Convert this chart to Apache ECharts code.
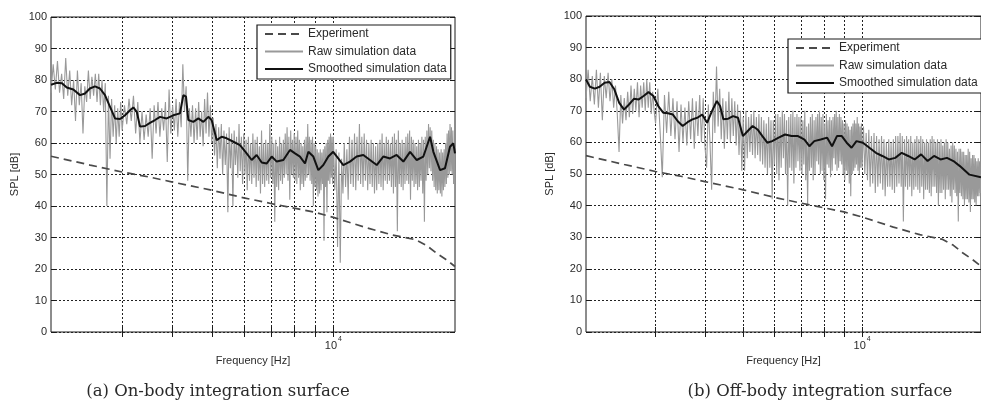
<!DOCTYPE html>
<html>
<head>
<meta charset="utf-8">
<script src="https://cdn.jsdelivr.net/npm/echarts@6/dist/echarts.min.js"></script>
<style>
  html, body { margin: 0; padding: 0; background: #fff; }
  #chart { width: 981px; height: 414px; }
</style>
</head>
<body>
<div id="chart"></div>
<script>
// Frequency bins [Hz] shared by both raw spectra
const rawFreq = [
  // 2000 - 2975
  2000,2025,2050,2075,2100,2125,2150,2175,2200,2225,2250,2275,2300,2325,2350,2375,2400,2425,2450,2475,
  2500,2525,2550,2575,2600,2625,2650,2675,2700,2725,2750,2775,2800,2825,2850,2875,2900,2925,2950,2975,
  // 3000 - 4960
  3000,3040,3080,3120,3160,3200,3240,3280,3320,3360,3400,3440,3480,3520,3560,3600,3640,3680,3720,3760,
  3800,3840,3880,3920,3960,4000,4040,4080,4120,4160,4200,4240,4280,4320,4360,4400,4440,4480,4520,4560,
  4600,4640,4680,4720,4760,4800,4840,4880,4920,4960,
  // 5000 - 9960
  5000,5040,5080,5120,5160,5200,5240,5280,5320,5360,5400,5440,5480,5520,5560,5600,5640,5680,5720,5760,
  5800,5840,5880,5920,5960,6000,6040,6080,6120,6160,6200,6240,6280,6320,6360,6400,6440,6480,6520,6560,
  6600,6640,6680,6720,6760,6800,6840,6880,6920,6960,7000,7040,7080,7120,7160,7200,7240,7280,7320,7360,
  7400,7440,7480,7520,7560,7600,7640,7680,7720,7760,7800,7840,7880,7920,7960,8000,8040,8080,8120,8160,
  8200,8240,8280,8320,8360,8400,8440,8480,8520,8560,8600,8640,8680,8720,8760,8800,8840,8880,8920,8960,
  9000,9040,9080,9120,9160,9200,9240,9280,9320,9360,9400,9440,9480,9520,9560,9600,9640,9680,9720,9760,
  9800,9840,9880,9920,9960,
  // 10000 - 20000
  10000,10080,10160,10240,10320,10400,10480,10560,10640,10720,10800,10880,10960,11040,11120,11200,
  11280,11360,11440,11520,11600,11680,11760,11840,11920,12000,12080,12160,12240,12320,12400,12480,
  12560,12640,12720,12800,12880,12960,13040,13120,13200,13280,13360,13440,13520,13600,13680,13760,
  13840,13920,14000,14080,14160,14240,14320,14400,14480,14560,14640,14720,14800,14880,14960,15040,
  15120,15200,15280,15360,15440,15520,15600,15680,15760,15840,15920,16000,16080,16160,16240,16320,
  16400,16480,16560,16640,16720,16800,16880,16960,17040,17120,17200,17280,17360,17440,17520,17600,
  17680,17760,17840,17920,18000,18080,18160,18240,18320,18400,18480,18560,18640,18720,18800,18880,
  18960,19040,19120,19200,19280,19360,19440,19520,19600,19680,19760,19840,19920,20000
];

// Raw simulated SPL [dB], on-body integration surface
const rawOnBody = [
  // 2000 - 2975
  76,85,77,86,76,82,74,87,75,83,72,80,67,83,72,79,63,78,73,83,
  74,81,75,82,73,82,72,80,70,79,40,75,55,74,62,72,60,71,62,73,
  // 3000 - 4960
  64,72,66,74,67,75,63,73,60,70,61,69,62,71,55,72,63,73,62,71,
  64,73,54,77,63,72,64,74,62,73,65,85,70,78,48,71,62,72,60,71,
  61,73,62,70,59,74,63,76,62,72,
  // 5000 - 9960
  60,68,56,66,52,65,55,66,50,64,53,63,38,65,52,63,40,64,53,62,
  49,66,51,62,47,63,50,61,45,62,48,60,47,63,49,61,46,62,48,59,
  44,64,47,60,46,61,48,60,47,66,49,62,47,60,35,61,46,59,45,62,
  48,60,47,61,49,63,50,65,48,62,42,64,50,61,49,63,48,62,47,64,
  49,61,45,60,47,59,46,61,48,62,49,66,50,62,48,61,47,62,40,60,
  46,59,45,58,43,57,44,58,45,57,47,58,29,59,46,60,38,61,48,62,
  47,63,49,62,47,
  // 10000 - 20000
  62,45,58,27,57,22,55,44,60,46,58,42,62,47,61,46,
  63,45,62,48,66,47,62,46,63,48,61,45,60,47,61,46,
  60,44,59,45,60,47,61,46,63,45,60,48,62,47,61,48,
  60,46,62,44,63,46,61,32,64,47,60,46,61,45,60,47,
  62,48,63,47,64,42,62,48,61,46,60,47,59,45,61,46,
  60,48,62,44,61,35,62,48,64,50,66,52,65,51,64,48,
  61,46,60,45,59,44,58,45,57,44,58,43,57,45,58,46,
  60,47,63,49,64,50,66,51,65,50,64,47,60,40
];

// Raw simulated SPL [dB], off-body integration surface
const rawOffBody = [
  // 2000 - 2975
  74,83,73,81,72,83,71,82,67,81,74,82,73,80,71,78,69,57,75,66,
  74,67,76,68,78,69,77,70,79,68,78,71,79,70,80,71,79,69,76,70,
  // 3000 - 4960
  66,77,64,49,75,63,76,62,74,61,73,57,72,60,71,59,73,61,74,58,
  73,62,75,60,74,59,52,72,60,45,76,63,84,65,77,61,74,58,73,61,
  76,60,74,62,73,59,72,56,70,51,
  // 5000 - 9960
  68,51,70,55,68,57,69,56,70,55,68,56,69,54,68,53,67,52,66,50,
  68,52,67,42,67,53,69,50,69,48,68,52,70,55,69,50,67,40,68,52,
  69,51,70,47,68,52,69,54,68,51,68,50,67,53,70,48,65,40,66,51,
  68,52,69,48,67,50,68,54,69,53,70,50,68,51,69,48,66,42,69,53,
  67,52,68,49,67,51,68,55,69,53,70,51,68,52,69,54,68,53,67,50,
  66,48,67,51,66,50,65,47,64,43,65,50,66,51,67,52,66,53,68,51,
  66,50,65,52,66,
  // 10000 - 20000
  52,65,50,63,48,64,46,62,47,63,44,62,46,61,47,62,
  45,61,43,60,46,61,46,60,45,61,44,62,46,62,47,63,
  46,62,35,61,46,62,45,61,46,62,43,60,45,61,46,62,
  45,61,44,62,46,61,42,60,45,61,45,60,44,61,43,62,
  46,61,46,60,44,61,40,60,44,61,44,59,45,60,42,61,
  45,60,45,58,43,59,41,60,45,59,44,58,43,57,35,58,
  44,58,43,57,42,57,40,56,42,56,42,58,41,57,38,55,
  42,56,42,56,41,55,40,54,43,55,43,54,44,50
];

// Smoothed simulated SPL [Hz, dB]
const smoothOnBody = [
  [2000,78.5],[2065,79.1],[2129,79],[2188,77.6],[2271,77],[2360,75.2],[2428,75.7],[2496,77.3],
  [2570,78],[2644,77.3],[2721,75.2],[2800,71.5],[2881,67.8],[2964,67.6],[3050,68.8],[3138,70.4],
  [3198,71.3],[3260,69.9],[3322,65.2],[3419,65.4],[3516,66.4],[3618,67.3],[3724,68.3],[3866,67.8],
  [4016,68.8],[4171,69.4],[4252,75.2],[4317,74.7],[4375,67.3],[4501,66.7],[4631,67.8],[4766,66.7],
  [4902,68.3],[4997,67.3],[5142,60.9],[5290,62],[5444,61.5],[5654,60.4],[5872,59.3],[6099,56.7],
  [6277,54.6],[6458,56.2],[6646,53.8],[6838,53.5],[7036,55.7],[7240,54.1],[7519,54.6],[7809,57.8],
  [8035,56.7],[8266,55.7],[8506,53.5],[8671,57.2],[8919,55.7],[9177,51.4],[9443,53],[9717,55.7],
  [9990,57.2],[10280,55.1],[10578,53],[10990,54.1],[11416,55.7],[11860,56.2],[12320,54.6],[12800,53],
  [13290,55.7],[13810,55.1],[14340,56.2],[14900,54.1],[15480,57.2],[16080,54.6],[16700,55.7],[17350,62],
  [17680,57.2],[18370,51.4],[18890,52],[19440,58.8],[19810,59.9],[20000,56.7]
];
const smoothOffBody = [
  [2000,79.9],[2046,77.6],[2105,77],[2166,77.6],[2229,78.9],[2293,79.1],[2359,76.8],[2427,72.5],
  [2497,70.4],[2570,72],[2644,73.8],[2720,73.6],[2798,74.7],[2879,75.9],[2962,74.7],[3048,71.5],
  [3136,69.4],[3226,69.2],[3319,68.8],[3415,66.7],[3514,65.2],[3615,66.4],[3719,67.3],[3827,67.8],
  [3937,68.8],[4051,66.2],[4168,69.9],[4288,73.1],[4370,71.5],[4454,67.3],[4582,67.5],[4714,68.3],
  [4851,67.8],[4991,62],[5135,63.6],[5283,65.2],[5435,64.1],[5592,62],[5754,59.9],[5920,60.4],
  [6147,61.5],[6383,62.5],[6628,62],[6883,62],[7147,60.9],[7354,58.8],[7566,60.4],[7857,60.9],
  [8158,61.5],[8393,58.8],[8636,62],[8885,62],[9141,59.9],[9405,58.3],[9677,60.4],[10048,59.9],
  [10434,58.3],[10835,56.7],[11251,55.7],[11683,54.6],[12132,55.1],[12598,56.7],[13082,55.7],[13584,54.6],
  [14106,56.2],[14648,54.1],[15210,55.7],[15794,54.6],[16401,55.1],[17031,54.1],[17685,52.5],[18700,49.8],
  [20000,49]
];

// Measured SPL [Hz, dB]
const experiment = [
  [2000,55.8],[2500,53],[3000,50.8],[3500,49.2],[4000,47.6],[5000,45],[6000,42.6],[7000,40.8],
  [8000,39.3],[9000,38],[10000,36.4],[12000,33.2],[14000,30.8],[16000,29.3],[17000,27.5],[18000,25],
  [19000,23],[20000,20.8]
];

// Axis setup
const freqRange = [2000, 20000];
const splRange = [0, 100];
const splStep = 10;
const freqGridTicks = [3000, 4000, 5000, 6000, 7000, 8000, 9000, 10000];
const freqLabelTicks = [10000];
const seriesNames = ['Experiment', 'Raw simulation data', 'Smoothed simulation data'];
const captions = ['(a) On-body integration surface', '(b) Off-body integration surface'];
const axisNames = { x: 'Frequency [Hz]', y: 'SPL [dB]' };

const SANS = '"Liberation Sans", Arial, Helvetica, sans-serif';
const SERIF = '"DejaVu Serif", "Liberation Serif", serif';
const INK = '#1a1a1a';
const TEXT = '#2a2a2a';
const RAW_GREY = '#999999';
const gridDots = { color: '#222', width: 1, type: [2, 2] };

const panels = [
  { grid: { left: 51, top: 17, width: 404, height: 315 },
    raw: rawOnBody, smooth: smoothOnBody,
    legend: { left: 257, top: 25 }, captionX: 218 },
  { grid: { left: 586, top: 16, width: 406, height: 316 },
    raw: rawOffBody, smooth: smoothOffBody,
    legend: { left: 788, top: 39 }, captionX: 820 }
];

const tickStyle = { show: true, inside: true, length: 5, lineStyle: { color: INK, width: 1 } };

function decadeLabel(v) {
  return '{b|10}{e|' + Math.round(Math.log10(v)) + '}';
}

const grids = [], xAxes = [], yAxes = [], series = [], legends = [], graphics = [];

panels.forEach((p, i) => {
  grids.push(Object.assign({ show: true, borderColor: INK, borderWidth: 1, backgroundColor: 'transparent' }, p.grid));

  const xBase = { type: 'log', logBase: 10, gridIndex: i, min: freqRange[0], max: freqRange[1], axisLine: { show: false } };
  xAxes.push(Object.assign({}, xBase, {
    position: 'bottom',
    axisTick: Object.assign({ customValues: freqGridTicks }, tickStyle),
    axisLabel: {
      customValues: freqLabelTicks, margin: 4, formatter: decadeLabel,
      rich: {
        b: { fontSize: 11, fontFamily: SANS, color: TEXT, verticalAlign: 'bottom', lineHeight: 15 },
        e: { fontSize: 7, fontFamily: SANS, color: TEXT, verticalAlign: 'top', lineHeight: 15, padding: [0, 0, 0, 1] }
      }
    },
    splitLine: { show: true, lineStyle: gridDots },
    name: axisNames.x, nameLocation: 'middle', nameGap: 21,
    nameTextStyle: { fontSize: 11, fontFamily: SANS, color: TEXT }
  }));
  xAxes.push(Object.assign({}, xBase, {
    position: 'top',
    axisTick: Object.assign({ customValues: freqGridTicks }, tickStyle),
    axisLabel: { show: false },
    splitLine: { show: false }
  }));

  const yBase = { type: 'value', gridIndex: i, min: splRange[0], max: splRange[1], interval: splStep, axisLine: { show: false } };
  yAxes.push(Object.assign({}, yBase, {
    position: 'left',
    axisTick: tickStyle,
    axisLabel: { margin: 4, fontSize: 11, fontFamily: SANS, color: TEXT },
    splitLine: { show: true, lineStyle: gridDots },
    name: axisNames.y, nameLocation: 'middle', nameRotate: 90, nameGap: 31,
    nameTextStyle: { fontSize: 11, fontFamily: SANS, color: TEXT }
  }));
  yAxes.push(Object.assign({}, yBase, {
    position: 'right',
    axisTick: tickStyle,
    axisLabel: { show: false },
    splitLine: { show: false }
  }));

  const axisIdx = { xAxisIndex: i * 2, yAxisIndex: i * 2 };
  series.push(Object.assign({
    name: seriesNames[1], type: 'line', symbol: 'none', z: 2,
    data: rawFreq.map((f, k) => [f, p.raw[k]]),
    lineStyle: { color: RAW_GREY, width: 1.1 }, itemStyle: { color: RAW_GREY }
  }, axisIdx));
  series.push(Object.assign({
    name: seriesNames[2], type: 'line', symbol: 'none', z: 3,
    data: p.smooth,
    lineStyle: { color: '#111', width: 2 }, itemStyle: { color: '#111' }
  }, axisIdx));
  series.push(Object.assign({
    name: seriesNames[0], type: 'line', symbol: 'none', z: 4,
    data: experiment,
    lineStyle: { color: '#4a4a4a', width: 1.7, type: [8, 5] }, itemStyle: { color: '#4a4a4a' }
  }, axisIdx));

  legends.push(Object.assign({
    orient: 'vertical', data: seriesNames, z: 10,
    backgroundColor: '#fff', borderColor: INK, borderWidth: 1.2, borderRadius: 0,
    padding: [3, 4, 4, 7], itemWidth: 38, itemHeight: 10, itemGap: 5.5,
    selectedMode: false,
    itemStyle: { opacity: 0 },
    textStyle: { fontSize: 12, fontFamily: SANS, color: TEXT }
  }, p.legend));

  graphics.push({
    type: 'text', x: p.captionX, y: 392, silent: true,
    style: { text: captions[i], fontSize: 16.5, fontFamily: SERIF, fill: '#2a2a2a', align: 'center', verticalAlign: 'middle' }
  });
});

const chart = echarts.init(document.getElementById('chart'), null, { renderer: 'canvas' });
chart.setOption({
  animation: false,
  backgroundColor: '#fff',
  grid: grids,
  xAxis: xAxes,
  yAxis: yAxes,
  legend: legends,
  series: series,
  graphic: graphics
});
</script>
</body>
</html>
